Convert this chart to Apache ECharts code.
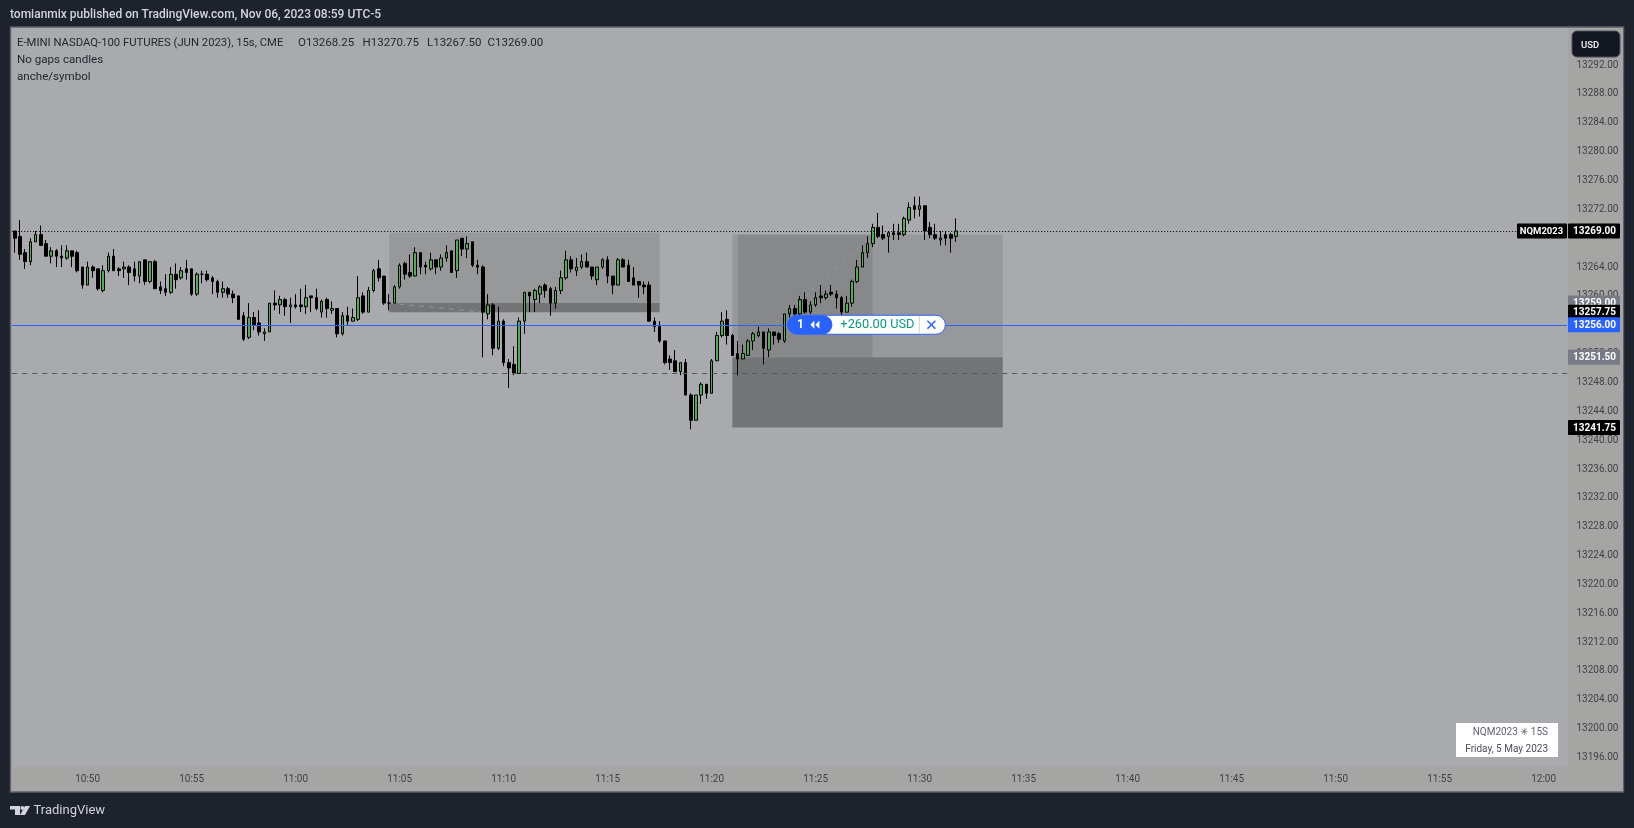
<!DOCTYPE html>
<html><head><meta charset="utf-8">
<style>html,body{margin:0;padding:0;background:#1e222d}#c{width:1634px;height:828px}</style>
<script src="https://cdn.jsdelivr.net/npm/echarts@6/dist/echarts.min.js"></script>
</head><body><div id="c"></div>
<script>
const opens=[13269,13268.25,13266,13264.75,13267.5,13268.5,13267.25,13265.5,13266.25,13265.5,
13265.25,13266.25,13266,13264,13261.5,13264,13263.75,13260.75,13263.5,13265.5,
13263.75,13263.75,13264,13263.75,13262.75,13265,13262,13264.75,13261.25,13261,
13260.5,13263,13262.5,13263.75,13263.75,13260.25,13263,13263,13262.5,13262,
13260.5,13261,13260.25,13260,13257.25,13254.25,13257,13256.25,13254.75,13255,
13259,13258.75,13259.5,13258.5,13258.75,13258.75,13258.5,13260,13259.75,13257.75,
13259.5,13258,13258.25,13254.75,13257.25,13256.5,13256.75,13260,13257.75,13260.75,
13263.75,13262.75,13259,13259,13261.25,13264.5,13263.25,13262.75,13266,13264.25,
13263.75,13265,13264,13265.25,13266.25,13263.5,13268,13266.5,13267.5,13264.25,
13264,13257.5,13258.75,13252.75,13256.5,13250.75,13250.5,13249.25,13256.5,13260.5,
13259.5,13260.25,13261.5,13261,13259,13260.75,13262.5,13265,13263.5,13264,
13264.75,13264,13262.25,13264,13265,13262.75,13261.5,13265,13264.25,13262.5,
13262,13261.5,13261.5,13256.5,13255.75,13253.75,13251.25,13251,13249.5,13250.75,
13246.25,13242.75,13246.25,13247.75,13246.5,13251,13254.5,13256.75,13254.5,13252,
13251.25,13251.75,13253.75,13254.5,13255,13252.5,13255,13254.75,13253.75,13257.5,
13258.25,13257.5,13259.5,13257.75,13258.75,13260,13259.75,13260.5,13260.25,13259.75,
13257.75,13259,13262,13264,13266,13267.25,13269.5,13268.5,13268.25,13268.75,
13268.75,13268.5,13270.5,13272.5,13272,13272.5,13269.5,13268.5,13267.75,13268.5,
13268.5,13268.25];
const closes=[13268,13265.75,13264.75,13267.5,13268.5,13267,13265.5,13266.25,13265.5,13265.25,
13266.25,13265.5,13263.5,13261.5,13264,13263.5,13261,13263.5,13265.5,13263.5,
13263.5,13264,13263.25,13262.75,13264.75,13262,13264.75,13261,13260.75,13260.5,
13263,13262.25,13263.5,13263.25,13260.25,13263,13263,13262.25,13262,13260.5,
13261,13260.25,13259.75,13256.75,13254,13257,13256,13255,13255,13259,
13258.75,13259.5,13258.5,13258.75,13258.5,13258.5,13259.75,13259.75,13258.25,13259.25,
13258.25,13258.25,13254.75,13257.25,13256.5,13257,13259.75,13257.75,13260.75,13263.5,
13262.5,13259,13259,13261.25,13264.25,13263,13262.75,13266,13264,13264,
13265,13264,13265.25,13266,13263.25,13267.75,13266.5,13267.25,13264.25,13264,
13257.75,13258.75,13252.75,13256.5,13250.75,13250,13249.25,13256.5,13260.5,13260,
13260.75,13261.25,13260.75,13259,13260.75,13262.5,13265,13263.75,13264,13264.75,
13264,13262.75,13264,13265,13262.75,13261.5,13265,13264,13262,13261.5,
13261.5,13261.25,13256.5,13255.75,13253.75,13250.75,13250.75,13249.5,13250.75,13246.25,
13242.75,13246.25,13247.75,13246.5,13251,13254.5,13256.5,13254.5,13251.75,13251.25,
13252,13253.75,13254.75,13255,13252.75,13255,13254.5,13254,13257.5,13258.25,
13257.5,13259.5,13257.75,13258.75,13259.75,13259.75,13260.25,13260.25,13259.75,13257.75,
13259,13262,13264,13266,13267.25,13269.5,13268.25,13268,13268.75,13268.5,
13268.5,13270.75,13272.25,13272,13272.5,13269,13268.5,13268,13268,13268,
13268,13269];
const highs=[13269,13270.5,13266.5,13268,13269,13269.75,13267.75,13266.75,13266.5,13267,
13267,13266.25,13266.25,13264,13264.75,13264.25,13263.75,13264.25,13266,13266.5,
13264,13264.75,13264.25,13264.75,13264.75,13265,13264.75,13265,13262,13263,
13264,13264.5,13264,13265,13263.75,13263.25,13263.5,13263.5,13262.75,13262.25,
13262,13261.25,13260.75,13260,13257.75,13259,13257.75,13258,13255.5,13259,
13260.75,13260,13259.75,13259.75,13260.25,13261,13261.5,13260,13261,13259.5,
13259.75,13259.25,13258.25,13257.75,13258.5,13258.25,13262.75,13260.5,13261.25,13263.75,
13265,13262.75,13260.25,13261.5,13264.5,13264.75,13265.75,13266.75,13266,13264.75,
13266,13265,13265.75,13267,13266.25,13267.75,13268,13268.25,13267.5,13265,
13264.25,13260.25,13259,13258.5,13256.75,13251.25,13253,13257,13260.5,13260.5,
13261,13261.5,13261.75,13261.25,13261.25,13263.5,13266.25,13265.5,13265.25,13265.75,
13266,13264,13264,13265.25,13265.5,13262.75,13265.25,13265.25,13265,13264,
13262,13262,13262,13257,13256.5,13253.75,13251.75,13252.5,13250.75,13251.25,
13246.5,13246.25,13248,13247.75,13251.25,13255,13257.75,13258,13254.75,13253.75,
13253.25,13254,13255,13255.75,13255,13255.5,13255,13255,13257.5,13258.75,
13258.75,13260,13260.5,13259.25,13260.5,13261.5,13260.75,13261.5,13260.75,13260,
13260,13262.25,13265,13267,13268.25,13270,13271.5,13269.75,13269,13270,
13270,13271,13273,13273.75,13273.75,13272.5,13270.25,13270,13269,13269,
13268.75,13270.75];
const lows=[13266,13265,13263.75,13264.25,13267.5,13267,13265.5,13264.5,13264,13264,
13265,13264,13263.25,13261,13261.5,13262.5,13260.75,13260.5,13263.25,13263.5,
13262.75,13262.5,13261.5,13262,13261.75,13261.5,13261.75,13261,13260.25,13260,
13260.25,13261,13262.25,13262.25,13260,13260,13261.75,13262,13260.25,13259.75,
13259.75,13259.75,13259,13256.75,13253.75,13254,13255.25,13254.5,13253.75,13255,
13258,13257.5,13257.25,13256.25,13258.25,13257.75,13257.5,13257.75,13258,13257,
13257,13257.5,13254.25,13254.5,13256,13256.5,13256.5,13257.5,13257.75,13260.5,
13262,13258.75,13258,13259,13261,13262.25,13262.5,13262.75,13263,13263,
13263.5,13263,13263.5,13264.75,13263.25,13262.5,13265.5,13265.25,13264,13263,
13251.5,13256.75,13251.75,13252.5,13250.25,13247.25,13249,13249.25,13254.75,13257.75,
13257.75,13259,13259.75,13257.25,13258.25,13260.25,13262.25,13263.25,13262.75,13263.75,
13264,13262.25,13261.5,13263.75,13261.75,13260.25,13261.5,13264,13262,13261.5,
13259.75,13260.25,13256.5,13255,13253.5,13250.5,13249.75,13249.5,13249,13246.25,
13241.5,13242.75,13245,13245.75,13246.5,13251,13254.25,13253.25,13251.75,13249,
13251.25,13251.75,13252.5,13254.25,13250.5,13251.5,13253.25,13253.5,13253.5,13257,
13257.25,13257,13257.5,13257.5,13258.5,13259,13259.5,13260,13258.25,13257.25,
13257.75,13258.5,13261.75,13264,13265.25,13266.75,13268,13267.75,13266,13267.75,
13267.75,13268.25,13270,13270.75,13271,13267.75,13268,13267.75,13267,13267,
13266,13267.5];

const timeTicks=['10:50','10:55','11:00','11:05','11:10','11:15','11:20','11:25','11:30','11:35','11:40','11:45','11:50','11:55','12:00'];
const slotCount=299;
const startSeconds=10*3600+46*60+30;
const categories=[];
for(let i=0;i<slotCount;i++){
  const t=startSeconds+i*15,h=Math.floor(t/3600),m=Math.floor(t%3600/60),s=t%60;
  const hm=String(h).padStart(2,'0')+':'+String(m).padStart(2,'0');
  categories.push(s===0?hm:hm+':'+String(s).padStart(2,'0'));
}
const lastPrice=13269, tradePrice=13256, dashedPrice=13249.25;
const hiddenTick=13268;
const tagPrices=[13269,13259,13251.5,13241.75,13257.75,13256];
const tagColors=['#000000','#787b86','#787b86','#000000','#000000','#2962ff'];
const symbolName='NQM2023';
const legendQuotes=['O13268.25','H13270.75','L13267.50','C13269.00'];

const candleData=opens.map((o,i)=>[o,closes[i],lows[i],highs[i]]);
const zone=(a,b,pTop,pBot,color)=>[{xAxis:categories[a],yAxis:pTop,itemStyle:{color,opacity:1}},{xAxis:categories[b],yAxis:pBot}];
const font='Roboto';
const legendX=[298,362.5,427,487.5];
const frame=[
 {type:'rect',z:-3,shape:{x:10.5,y:27,width:1613,height:765},style:{fill:'#a9aaad',stroke:'#5d6069',lineWidth:1.5}},
 {type:'rect',z:-2,shape:{x:1568,y:28,width:55,height:763},style:{fill:'#a5a5a3'}},
 {type:'rect',z:-2,shape:{x:11.5,y:767,width:1556.5,height:24},style:{fill:'#a5a5a3'}},
 {type:'rect',z:50,shape:{x:1572,y:31,width:48,height:26,r:5},style:{fill:'#131722',stroke:'#4a4e58',lineWidth:1}},
 {type:'text',z:51,x:1581,y:46,style:{text:'USD',fill:'#e8e9ec',font:'600 9.5px '+font,textVerticalAlign:'middle'}},
 {type:'text',z:51,x:10,y:15,style:{text:'tomianmix published on TradingView.com, Nov 06, 2023 08:59 UTC-5',fill:'#d1d4dc',font:'500 12px '+font,textVerticalAlign:'middle'}},
 {type:'text',z:51,x:17,y:43,style:{text:'E-MINI NASDAQ-100 FUTURES (JUN 2023), 15s, CME',fill:'#24272f',font:'11.3px '+font,textVerticalAlign:'middle'}},
 ...legendQuotes.map((q,i)=>({type:'text',z:51,x:legendX[i],y:43,style:{text:q,fill:'#24272f',font:'11.5px '+font,textVerticalAlign:'middle'}})),
 {type:'text',z:51,x:17,y:60.5,style:{text:'No gaps candles',fill:'#24272f',font:'11.6px '+font,textVerticalAlign:'middle'}},
 {type:'text',z:51,x:17,y:77.5,style:{text:'anche/symbol',fill:'#24272f',font:'11.6px '+font,textVerticalAlign:'middle'}},
 {type:'rect',z:50,shape:{x:1456,y:723,width:102,height:34},style:{fill:'#ffffff'}},
 {type:'text',z:51,x:1548,y:732.5,style:{text:'NQM2023 ✳ 15S',fill:'#5f626c',font:'10px '+font,textAlign:'right',textVerticalAlign:'middle'}},
 {type:'text',z:51,x:1548,y:749,style:{text:'Friday, 5 May 2023',fill:'#4a4d57',font:'10px '+font,textAlign:'right',textVerticalAlign:'middle'}},
 {type:'polygon',z:51,shape:{points:[[10,806],[20,806],[20,815],[15,815],[15,809.5],[10,809.5]]},style:{fill:'#d1d4dc'}},
 {type:'circle',z:51,shape:{cx:22.3,cy:808,r:2},style:{fill:'#d1d4dc'}},
 {type:'polygon',z:51,shape:{points:[[25,806],[30,806],[25,815],[20,815]]},style:{fill:'#d1d4dc'}},
 {type:'text',z:51,x:33.5,y:811,style:{text:'TradingView',fill:'#d1d4dc',font:'13px '+font,textVerticalAlign:'middle'}}
];

function renderTag(params,api){
  const y=api.coord([0,api.value(1)])[1], i=params.dataIndex;
  return {type:'group',children:[
    {type:'rect',shape:{x:1568,y:y-7.5,width:52,height:15,r:1},style:{fill:tagColors[i]}},
    {type:'text',x:1594.5,y:y+0.5,style:{text:api.value(1).toFixed(2),fill:'#ffffff',font:'bold 10px '+font,textAlign:'center',textVerticalAlign:'middle'}}
  ]};
}
function renderName(params,api){
  const y=api.coord([0,api.value(1)])[1];
  return {type:'group',children:[
    {type:'rect',shape:{x:1517,y:y-7.5,width:50,height:15,r:1},style:{fill:'#000000'}},
    {type:'text',x:1541.5,y:y+0.5,style:{text:symbolName,fill:'#ffffff',font:'bold 9.5px '+font,textAlign:'center',textVerticalAlign:'middle'}}
  ]};
}
function renderPill(params,api){
  const c=api.coord([api.value(0),api.value(1)]), y=c[1], x0=c[0]+3;
  const blue='#2962ff';
  return {type:'group',children:[
    {type:'rect',shape:{x:x0,y:y-9.5,width:158,height:19,r:9.5},style:{fill:'#ffffff',stroke:blue,lineWidth:1}},
    {type:'rect',shape:{x:x0,y:y-9.5,width:45,height:19,r:9.5},style:{fill:blue}},
    {type:'text',x:x0+13,y:y+0.5,style:{text:'1',fill:'#ffffff',font:'bold 12px '+font,textAlign:'center',textVerticalAlign:'middle'}},
    {type:'polygon',shape:{points:[[x0+27,y-4],[x0+27,y+4],[x0+23,y]]},style:{fill:'#ffffff'}},
    {type:'polygon',shape:{points:[[x0+32,y-4],[x0+32,y+4],[x0+28,y]]},style:{fill:'#ffffff'}},
    {type:'text',x:x0+90,y:y+0.5,style:{text:'+260.00 USD',fill:'#089981',font:'12.8px '+font,textAlign:'center',textVerticalAlign:'middle'}},
    {type:'line',shape:{x1:x0+132,y1:y-9,x2:x0+132,y2:y+9},style:{stroke:'#d1d4dc',lineWidth:1}},
    {type:'line',shape:{x1:x0+140,y1:y-4,x2:x0+148,y2:y+4},style:{stroke:blue,lineWidth:1.5}},
    {type:'line',shape:{x1:x0+148,y1:y-4,x2:x0+140,y2:y+4},style:{stroke:blue,lineWidth:1.5}}
  ]};
}

const chart=echarts.init(document.getElementById('c'),null,{renderer:'canvas'});
chart.setOption({
 animation:false,
 backgroundColor:'#1e222d',
 graphic:{elements:frame},
 grid:{left:12.2,width:1554.8,top:65.1,height:692.4,containLabel:false},
 xAxis:{type:'category',data:categories,boundaryGap:true,
   axisLine:{show:false},axisTick:{show:false},splitLine:{show:false},
   axisLabel:{interval:(i,v)=>timeTicks.includes(v),margin:17,color:'#3f4249',fontFamily:font,fontSize:10}},
 yAxis:{type:'value',position:'right',min:13196,max:13292,interval:4,scale:true,
   axisLine:{show:false},axisTick:{show:false},splitLine:{show:false},
   axisLabel:{margin:9.5,color:'#3f4249',fontFamily:font,fontSize:10,align:'left',padding:[2,0,0,0],formatter:v=>v===hiddenTick?'':v.toFixed(2)}},
 series:[
  {type:'candlestick',data:candleData,barWidth:3,z:2,silent:true,
   itemStyle:{color:'#4caf50',color0:'#000000',borderColor:'#000000',borderColor0:'#000000',borderColorDoji:'#000000',borderWidth:1},
   markArea:{silent:true,z:1,data:[
     zone(72,124,13268.75,13259,'#97989a'),
     zone(72,124,13259,13257.75,'#737476'),
     zone(138,139,13268.5,13251.5,'#97989b'),
     zone(139,165,13268.5,13251.5,'#87888a'),
     zone(165,190,13268.5,13251.5,'#97989b'),
     zone(138,190,13251.5,13241.75,'#737476')
   ]},
   markLine:{silent:true,symbol:'none',z:1,label:{show:false},data:[
     [{coord:[categories[72],13259],lineStyle:{color:'#96979a',type:[5,5],width:1}},{coord:[categories[90],13257.75]}],
     [{coord:[categories[139],13251.5],lineStyle:{color:'#96979a',type:[5,5],width:1}},{coord:[categories[165],13268.5]}]
   ]}
  },
  {type:'line',data:[],silent:true,z:3,
   markLine:{silent:true,symbol:'none',z:4,label:{show:false},data:[
     {yAxis:lastPrice,lineStyle:{color:'#000000',type:[1,2],width:1}},
     {yAxis:tradePrice,lineStyle:{color:'#2962ff',type:'solid',width:1}},
     {yAxis:dashedPrice,lineStyle:{color:'#55575b',type:[5,5],width:1}}
   ]}
  },
  {type:'custom',z:20,silent:true,renderItem:renderTag,data:tagPrices.map(p=>[0,p])},
  {type:'custom',z:20,silent:true,renderItem:renderName,data:[[0,lastPrice]]},
  {type:'custom',z:21,silent:true,renderItem:renderPill,data:[[148,tradePrice]]}
 ]
});
</script></body></html>
